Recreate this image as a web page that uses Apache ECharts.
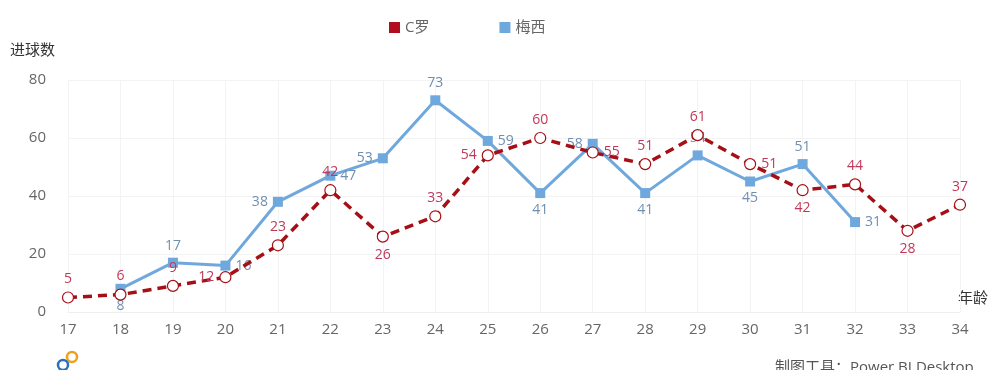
<!DOCTYPE html>
<html><head><meta charset="utf-8">
<script src="https://cdn.jsdelivr.net/npm/echarts@6/dist/echarts.min.js"></script>
<style>html,body{margin:0;padding:0;background:#fff}#c{width:1000px;height:370px}</style>
</head><body><div id="c"></div>
<script>
const ages = ['17','18','19','20','21','22','23','24','25','26','27','28','29','30','31','32','33','34'];
const ronaldo = [5,6,9,12,23,42,26,33,54,60,55,51,61,51,42,44,28,37];
const messi = [null,8,17,16,38,47,53,73,59,41,58,41,54,45,51,31,null,null];
const yTicks = [0,20,40,60,80];

const ronaldoPos = ['top','top','top','left','top','top','bottom','top','left','top','right','top','top','right','bottom','top','bottom','top'];
const messiPos = [null,'bottom','top','right','left','right','left','top','right','bottom','left','bottom','top','bottom','top','right',null,null];

const font = '"Open Sans","Noto Sans CJK SC",sans-serif';
const chart = echarts.init(document.getElementById('c'));
function items(vals, pos){
  return vals.map((v,i)=> v==null ? null : {value:v, label:{position:pos[i]}});
}
chart.setOption({
  animation:false,
  textStyle:{fontFamily:font},
  legend:{
    top:15, left:384, itemGap:70, itemWidth:11, itemHeight:11, icon:'rect',
    textStyle:{fontSize:15, color:'#666', fontFamily:font},
    data:[{name:'C罗', itemStyle:{color:'#b00e1c', borderWidth:0}}, {name:'梅西', itemStyle:{color:'#6fa8dc', borderWidth:0}}]
  },
  grid:{left:68, right:40, top:80, bottom:58},
  xAxis:{
    type:'category', data:ages, boundaryGap:false,
    axisLine:{show:true, lineStyle:{color:'#eeeeee'}}, axisTick:{show:false},
    axisLabel:{color:'#666', fontSize:15, margin:10, fontFamily:font},
    splitLine:{show:true, lineStyle:{color:'#f3f3f3'}}
  },
  yAxis:{
    type:'value', min:0, max:80, interval:20,
    axisLine:{show:false}, axisTick:{show:false},
    axisLabel:{color:'#666', fontSize:15, margin:22, fontFamily:font, formatter:v=>yTicks.includes(v)?String(v):''},
    splitLine:{show:true, lineStyle:{color:'#f3f3f3'}}
  },
  graphic:[
    {type:'text', left:10, top:43, style:{text:'进球数', fontSize:15, fill:'#333', fontFamily:font}},
    {type:'text', left:958, top:291, style:{text:'年龄', fontSize:15, fill:'#333', fontFamily:font}},
    {type:'text', left:775, top:360, style:{text:'制图工具：Power BI Desktop', fontSize:15, fill:'#555', fontFamily:font}},
    {type:'circle', shape:{cx:72, cy:357, r:5}, style:{fill:'none', stroke:'#f0a020', lineWidth:2.5}},
    {type:'circle', shape:{cx:63, cy:365, r:5}, style:{fill:'none', stroke:'#2a70c0', lineWidth:2.5}}
  ],
  series:[
    {
      name:'C罗', type:'line', data:items(ronaldo, ronaldoPos),
      symbol:'circle', symbolSize:11,
      lineStyle:{color:'#a50f15', width:3.5, type:[9,6]},
      itemStyle:{color:'#fff', borderColor:'#a50f15', borderWidth:1.2},
      label:{show:true, color:'#c0395a', fontSize:14, distance:5, fontFamily:font},
      z:3
    },
    {
      name:'梅西', type:'line', data:items(messi, messiPos),
      symbol:'rect', symbolSize:10, connectNulls:false,
      lineStyle:{color:'#6fa8dc', width:3},
      itemStyle:{color:'#6fa8dc'},
      label:{show:true, color:'#6f8fb0', fontSize:14, distance:5, fontFamily:font},
      z:2
    }
  ]
});
</script></body></html>
